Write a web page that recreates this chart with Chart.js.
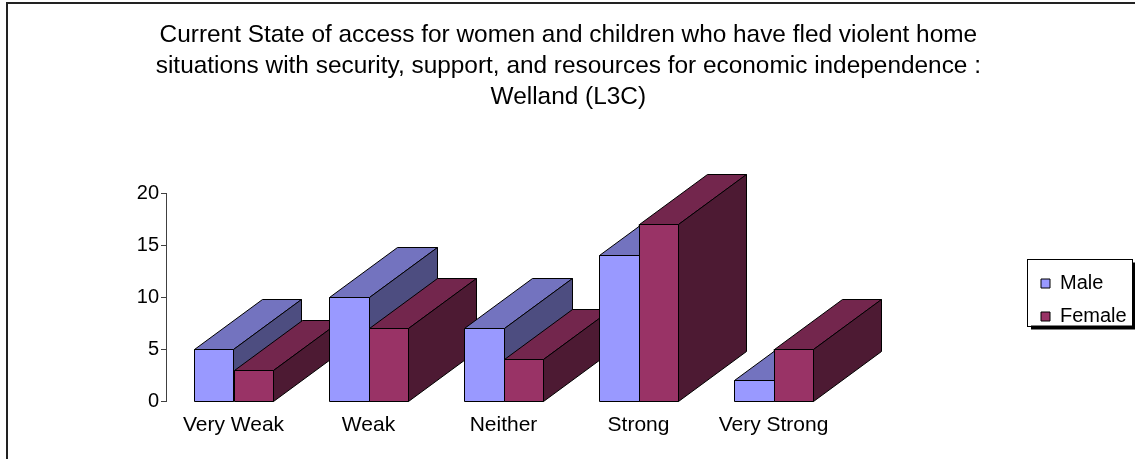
<!DOCTYPE html>
<html>
<head>
<meta charset="utf-8">
<title>Welland (L3C)</title>
<script src="https://cdn.jsdelivr.net/npm/chart.js@4.4.0/dist/chart.umd.min.js"></script>
<style>
  html, body { margin: 0; padding: 0; background: #fff; }
  #wrap { position: relative; width: 1135px; height: 459px; }
</style>
</head>
<body>
<div id="wrap"><canvas id="chart" width="1135" height="459"></canvas></div>
<script>
// data
const categories = ['Very Weak', 'Weak', 'Neither', 'Strong', 'Very Strong'];
const seriesNames = ['Male', 'Female'];
const maleValues = [5, 10, 7, 14, 2];
const femaleValues = [3, 7, 4, 17, 5];
const yTicks = [0, 5, 10, 15, 20];
const titleLines = [
  'Current State of access for women and children who have fled violent home',
  'situations with security, support, and resources for economic independence :',
  'Welland (L3C)'
];

const FONT = '"Liberation Sans", Arial, sans-serif';
const W = 1135;

// 3d look: front / top / side colours per series
const faces = [
  { front: '#9999FF', top: '#7373BF', side: '#4D4D80' },
  { front: '#993366', top: '#73264D', side: '#4D1A33' }
];
const depthX = 68, depthY = 50;

// where the plot should end and the legend squares should start
const plotRight = 841;
const legendSquareLeft = 1041;
const legendFontSize = 20, legendBox = 9, legendPad = 13;
let gapWidth = 180;

const px = v => Math.round(v) + 0.5;

const bars3d = {
  id: 'bars3d',
  afterDatasetsDraw(chart) {
    const ctx = chart.ctx;
    const metas = chart.data.datasets.map((d, i) => chart.getDatasetMeta(i));
    const poly = (pts, fill) => {
      ctx.beginPath();
      pts.forEach((p, k) => k ? ctx.lineTo(p[0], p[1]) : ctx.moveTo(p[0], p[1]));
      ctx.closePath();
      ctx.fillStyle = fill;
      ctx.fill();
      ctx.stroke();
    };
    ctx.save();
    ctx.lineWidth = 1;
    ctx.strokeStyle = '#000';
    // category by category, male then female, so nearer faces cover farther ones
    for (let j = 0; j < categories.length; j++) {
      metas.forEach((meta, i) => {
        const el = meta.data[j];
        const f = faces[i];
        const l = px(el.x - el.width / 2), r = px(el.x + el.width / 2);
        const t = px(el.y), b = px(el.base);
        poly([[l, t], [r, t], [r + depthX, t - depthY], [l + depthX, t - depthY]], f.top);
        poly([[r, t], [r + depthX, t - depthY], [r + depthX, b - depthY], [r, b]], f.side);
        poly([[l, t], [r, t], [r, b], [l, b]], f.front);
      });
    }
    ctx.restore();
  }
};

// outer frame and the boxed legend with its shadow
const frame = {
  id: 'frame',
  beforeDraw(chart) {
    const ctx = chart.ctx;
    ctx.save();
    ctx.fillStyle = '#222';
    ctx.fillRect(6, 2, W - 6, 2);
    ctx.fillRect(6, 2, 2, chart.height);
    const hb = chart.legend.legendHitBoxes;
    if (hb && hb.length) {
      const l = hb[0].left - 14;
      const t = hb[0].top + hb[0].height / 2 - 25;
      const b = hb[hb.length - 1].top + hb[hb.length - 1].height / 2 + 9;
      const w = 105;
      ctx.fillStyle = '#000';
      ctx.fillRect(l + 4, t + 4, w, b - t);
      ctx.fillStyle = '#fff';
      ctx.fillRect(l, t, w, b - t);
      ctx.strokeStyle = '#000';
      ctx.lineWidth = 1;
      ctx.strokeRect(px(l), px(t), w, b - t);
    }
    ctx.restore();
  }
};

const chart = new Chart(document.getElementById('chart'), {
  type: 'bar',
  data: {
    labels: categories,
    datasets: [
      { label: seriesNames[0], data: maleValues, backgroundColor: faces[0].front, borderColor: '#000', borderWidth: 1 },
      { label: seriesNames[1], data: femaleValues, backgroundColor: faces[1].front, borderColor: '#000', borderWidth: 1 }
    ]
  },
  options: {
    responsive: false,
    animation: false,
    devicePixelRatio: 1,
    categoryPercentage: 0.58,
    barPercentage: 1,
    layout: { padding: { left: 0, right: 20, top: 0, bottom: 0 } },
    scales: {
      x: {
        grid: { display: false, drawTicks: false },
        border: { display: false },
        ticks: { color: '#000', font: { family: FONT, size: 21 }, padding: 12, maxRotation: 0 },
        afterFit(s) { s.height = 58; }
      },
      y: {
        min: 0,
        max: 20,
        grid: { drawOnChartArea: false, drawTicks: true, tickLength: 5, color: '#404040' },
        border: { display: true, color: '#404040', width: 1 },
        ticks: { color: '#000', font: { family: FONT, size: 20 }, padding: 2 },
        afterBuildTicks(s) { s.ticks = yTicks.map(v => ({ value: v })); },
        afterFit(s) { s.width = 166; }
      },
      // empty spacer between the plot and the legend
      gap: {
        type: 'linear',
        position: 'right',
        grid: { display: false },
        border: { display: false },
        ticks: { display: false },
        afterFit(s) { s.width = gapWidth; }
      }
    },
    plugins: {
      title: {
        display: true,
        text: titleLines,
        color: '#000',
        font: { family: FONT, size: 24.4, weight: 'normal', lineHeight: '31px' },
        padding: { top: 20, bottom: 80 }
      },
      legend: {
        position: 'right',
        fullSize: false,
        title: { display: true, text: '', padding: 0, font: { size: 6, lineHeight: 1 } },
        labels: {
          color: '#000',
          font: { family: FONT, size: legendFontSize },
          boxWidth: legendBox,
          boxHeight: legendBox,
          padding: legendPad
        }
      },
      tooltip: { enabled: false }
    }
  },
  plugins: [frame, bars3d]
});

// second pass: put the legend squares and the plot's right edge where the reference has them
const lg = chart.legend;
const inset = lg.legendHitBoxes[0].left - lg.left;
chart.options.layout.padding.right = W - (legendSquareLeft - inset) - lg.width;
gapWidth = (legendSquareLeft - inset) - plotRight;
chart.update();
</script>
</body>
</html>
